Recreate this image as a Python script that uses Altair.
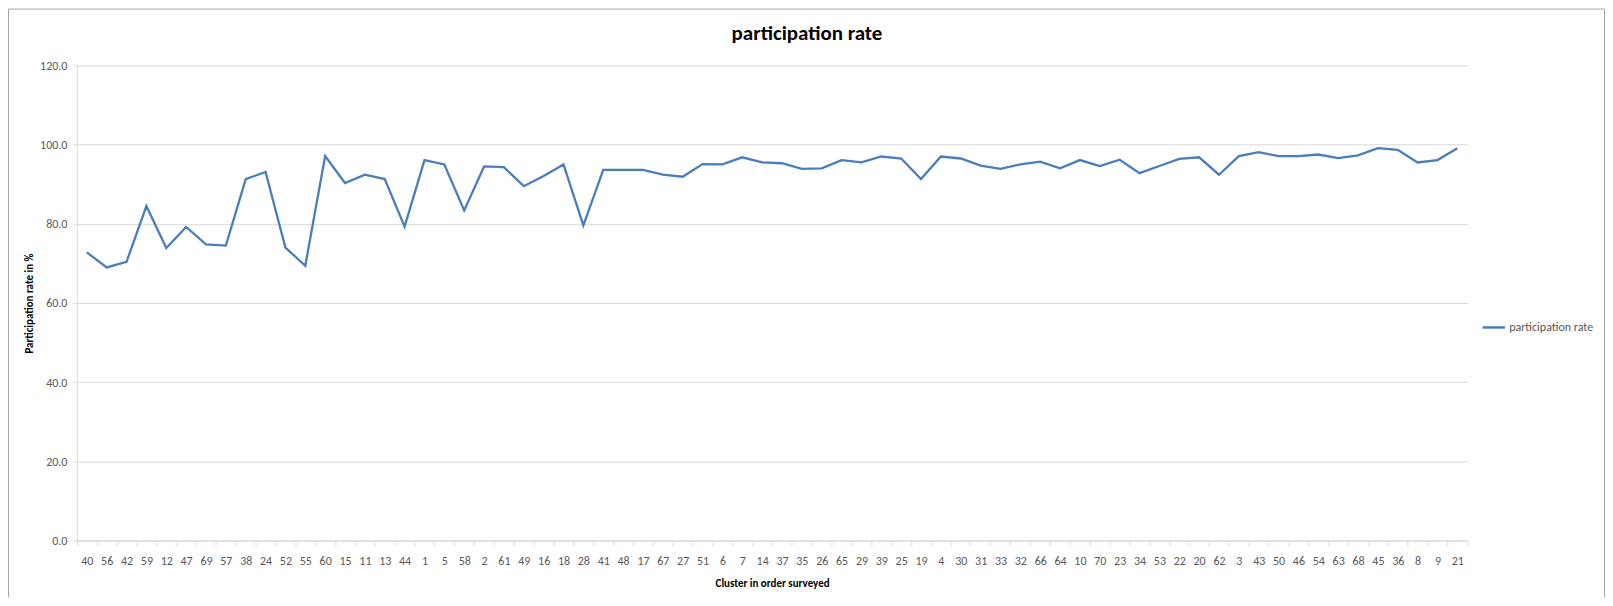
import altair as alt
import pandas as pd

clusters = ["40", "56", "42", "59", "12", "47", "69", "57", "38", "24",
            "52", "55", "60", "15", "11", "13", "44", "1", "5", "58",
            "2", "61", "49", "16", "18", "28", "41", "48", "17", "67",
            "27", "51", "6", "7", "14", "37", "35", "26", "65", "29",
            "39", "25", "19", "4", "30", "31", "33", "32", "66", "64",
            "10", "70", "23", "34", "53", "22", "20", "62", "3", "43",
            "50", "46", "54", "63", "68", "45", "36", "8", "9", "21"]

rates = [72.8, 69.0, 70.4, 84.5, 73.9, 79.2, 74.8, 74.5, 91.3, 93.1,
         74.0, 69.4, 97.1, 90.3, 92.4, 91.3, 79.3, 96.1, 95.0, 83.4,
         94.5, 94.3, 89.5, 92.1, 95.0, 79.6, 93.6, 93.6, 93.6, 92.4,
         91.9, 95.1, 95.0, 96.8, 95.5, 95.3, 93.9, 94.0, 96.1, 95.5,
         97.0, 96.5, 91.3, 97.0, 96.5, 94.7, 93.9, 95.0, 95.7, 94.0,
         96.1, 94.6, 96.2, 92.8, 94.6, 96.4, 96.8, 92.4, 97.1, 98.1,
         97.1, 97.1, 97.5, 96.6, 97.3, 99.1, 98.7, 95.5, 96.1, 99.1]

series_name = "participation rate"
y_ticks = [0, 20, 40, 60, 80, 100, 120]

df = pd.DataFrame({"cluster": clusters, "rate": rates,
                   "series": [series_name] * len(clusters)})

FONT = "Carlito, 'Liberation Sans Narrow', 'Open Sans', sans-serif"
LINE = "#4a7ebb"
GRID = "#d9d9d9"
LABEL = "#595959"

W, H = 1393, 476
PL, PT, PR, PB = 69, 57, 138, 57

line = alt.Chart(df).mark_line(strokeWidth=2.3).encode(
    x=alt.X("cluster:N", sort=clusters,
            scale=alt.Scale(type="band", paddingInner=0, paddingOuter=0),
            axis=alt.Axis(title="Cluster in order surveyed", tickBand="extent",
                          labelAngle=0, tickSize=5, labelPadding=10, titlePadding=11,
                          grid=False, domainColor=GRID, tickColor=GRID,
                          labelColor=LABEL, labelFontSize=12, labelFont=FONT,
                          titleFont=FONT, titleFontSize=11, titleFontWeight="bold",
                          titleColor="#000000")),
    y=alt.Y("rate:Q", scale=alt.Scale(domain=[0, 120]),
            axis=alt.Axis(title="Participation rate in %", values=y_ticks, format=".1f",
                          tickSize=4, labelPadding=6, titlePadding=5,
                          grid=True, gridColor=GRID, domainColor=GRID, tickColor=GRID,
                          labelColor=LABEL, labelFontSize=12, labelFont=FONT,
                          titleFont=FONT, titleFontSize=11, titleFontWeight="bold",
                          titleColor="#000000")),
    color=alt.Color("series:N", scale=alt.Scale(range=[LINE]),
                    legend=alt.Legend(title=None, orient="none", legendX=1407, legendY=250,
                                      symbolType="stroke", symbolSize=500,
                                      symbolStrokeWidth=2.5, labelFontSize=12,
                                      labelFont=FONT, labelColor=LABEL, labelOffset=3)),
)

frame_data = alt.Data(values=[{"k": 1}])
frame_color = "#a6a6a6"
frame_left = alt.Chart(frame_data).mark_rule(color=frame_color, strokeWidth=1).encode(
    x=alt.value(-PL + 0.5), y=alt.value(-PT + 0.5), y2=alt.value(H + PB))
frame_top = alt.Chart(frame_data).mark_rule(color=frame_color, strokeWidth=1).encode(
    x=alt.value(-PL + 0.5), x2=alt.value(W + PR - 0.5), y=alt.value(-PT + 0.5))
frame_right = alt.Chart(frame_data).mark_rule(color=frame_color, strokeWidth=1).encode(
    x=alt.value(W + PR - 0.5), y=alt.value(-PT + 0.5), y2=alt.value(H + PB))

chart = alt.layer(line, frame_left, frame_top, frame_right).properties(
    width=W, height=H,
    title=alt.TitleParams(series_name, fontSize=21, fontWeight="bold", font=FONT,
                          color="#000000", anchor="middle", frame="group",
                          dx=35, offset=-36),
    autosize=alt.AutoSizeParams(type="none"),
    padding={"left": PL, "top": PT, "right": PR, "bottom": PB},
).configure_view(stroke=None)

chart.save("out.html", embed_options={"renderer": "svg", "actions": False})
